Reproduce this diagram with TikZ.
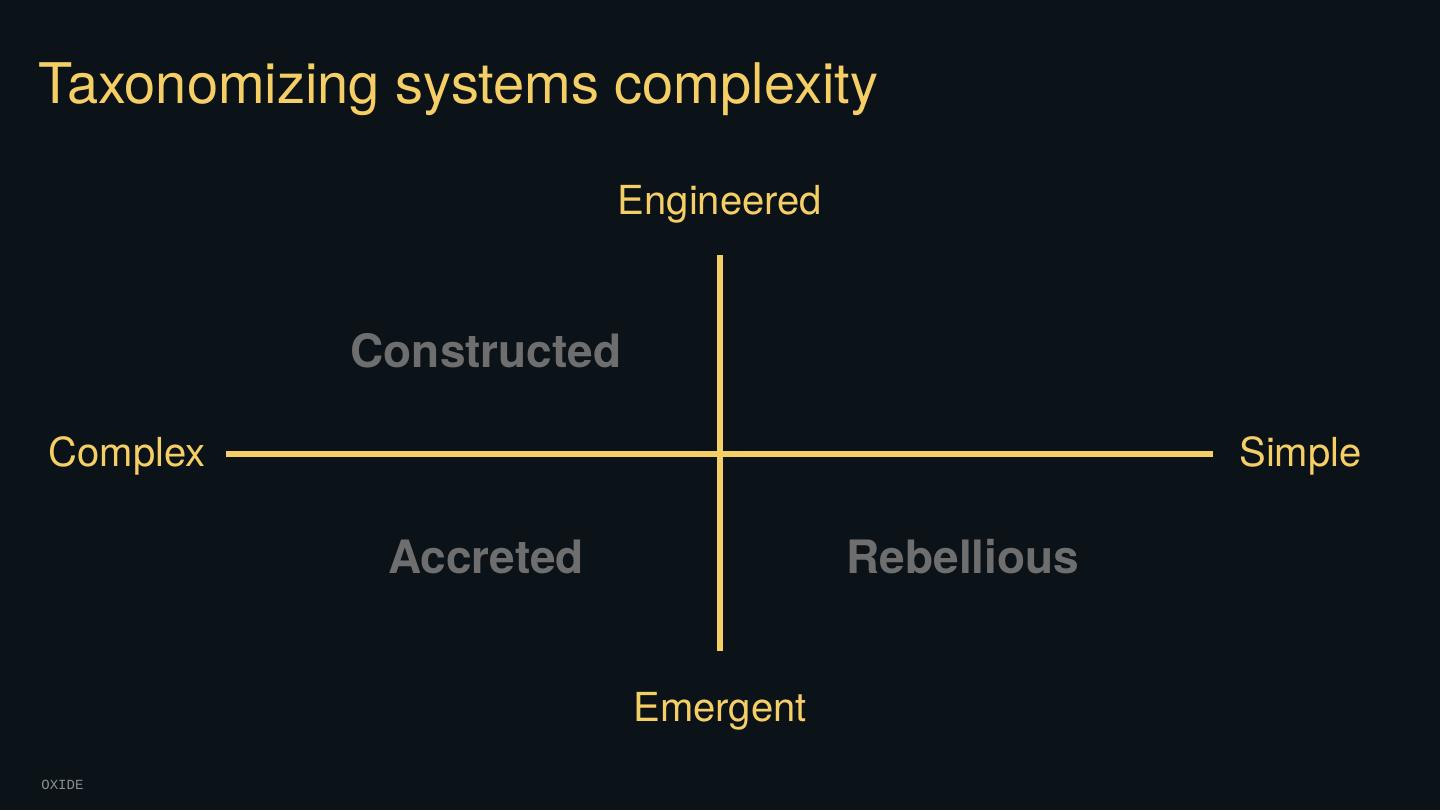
\documentclass[tikz,border=0pt]{standalone}
\usepackage{fontspec}
\setmainfont{TeX Gyre Heros}
\newfontfamily\monofont{Liberation Mono}
\definecolor{slidebg}{HTML}{0B1318}
\definecolor{oxyellow}{HTML}{F5CF65}
\definecolor{quadgray}{HTML}{6E6E6E}
\definecolor{footgray}{HTML}{8A8F92}

\begin{document}
\begin{tikzpicture}[x=0.5pt, y=-0.5pt,
    axis/.style={line width=3pt, oxyellow},
    axislabel/.style={anchor=base, text=oxyellow, font=\fontsize{20}{24}\selectfont, inner sep=0pt},
    quadrant/.style={anchor=base, text=quadgray, font=\fontsize{23}{27}\selectfont\bfseries, inner sep=0pt}]
    % Background
    \fill[slidebg] (0,0) rectangle (1440,810);
    \useasboundingbox (0,0) rectangle (1440,810);

    % Title
    \node[anchor=base west, inner sep=0pt, text=oxyellow, font=\fontsize{28}{32}\selectfont] (title) at (38,103) {Taxonomizing systems complexity};

    % Axis ends
    \coordinate (top) at (720,255);
    \coordinate (bottom) at (720,651);
    \coordinate (left) at (226,454);
    \coordinate (right) at (1213,454);

    % Axes
    \draw[axis] (left) -- (right);
    \draw[axis] (top) -- (bottom);

    % Axis labels
    \node[axislabel] (engineered) at (720,214) {Engineered};
    \node[axislabel] (emergent) at (720,721) {Emergent};
    \node[axislabel, anchor=base east] (complex) at (206,466) {Complex};
    \node[axislabel, anchor=base west] (simple) at (1239,466) {Simple};

    % Quadrants
    \node[quadrant] (constructed) at (486,367) {Constructed};
    \node[quadrant] (accreted) at (486,573) {Accreted};
    \node[quadrant] (rebellious) at (963,573) {Rebellious};

    % Footer
    \node[anchor=base west, inner sep=0pt, text=footgray, font=\monofont\fontsize{7}{8}\selectfont] (oxide) at (41,789) {OXIDE};
\end{tikzpicture}
\end{document}
